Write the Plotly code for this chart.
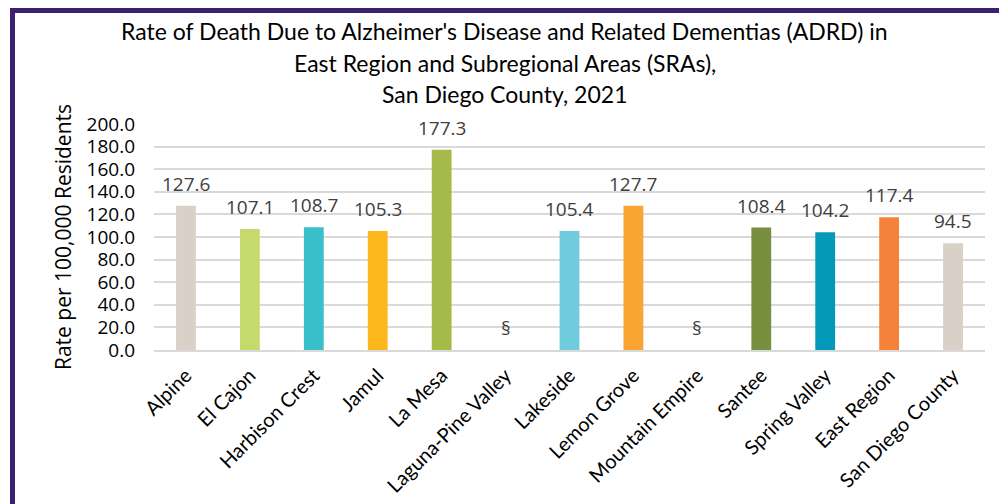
import plotly.graph_objects as go

categories = ["Alpine", "El Cajon", "Harbison Crest", "Jamul", "La Mesa",
              "Laguna-Pine Valley", "Lakeside", "Lemon Grove", "Mountain Empire",
              "Santee", "Spring Valley", "East Region", "San Diego County"]
rates = [127.6, 107.1, 108.7, 105.3, 177.3, None, 105.4, 127.7, None,
         108.4, 104.2, 117.4, 94.5]
colors = ["#d9d0c7", "#c6d96c", "#38bfc9", "#fdb71c", "#a6ba4a", "#cccccc",
          "#70cbdd", "#f9a533", "#cccccc", "#778f3e", "#0499b9", "#f5823b", "#d9d0c7"]
ytick_vals = [0, 20, 40, 60, 80, 100, 120, 140, 160, 180, 200]
ytick_text = [f"{v:.1f}" for v in ytick_vals]
title_lines = ["Rate of Death Due to Alzheimer's Disease and Related Dementias (ADRD) in",
               "East Region and Subregional Areas (SRAs),",
               "San Diego County, 2021"]

yvals = [r if r is not None else 0 for r in rates]
labels = [f"{r:.1f}" if r is not None else "§" for r in rates]

TFONT = "Lato"
NFONT = "Open Sans"

# page has an 8px body margin; figure sized to fill the rest of the window
OFF = 8
W, H = 1007 - OFF, 504 - OFF
L, R, T, B = 146, 22, 116, 154
pw, ph = W - L - R, H - T - B

def px(x):
    return (x - OFF - L) / pw

def py(y):
    return (H - B - (y - OFF)) / ph

fig = go.Figure(go.Bar(
    x=categories, y=yvals, marker=dict(color=colors, line=dict(width=0)),
    hoverinfo="x+y"))

annotations = []
for c, v, t in zip(categories, yvals, labels):
    annotations.append(dict(x=c, y=v, xref="x", yref="y", text=t, showarrow=False,
                            yanchor="middle", yshift=22,
                            font=dict(family=NFONT, size=19, color="#404040")))
for i, line in enumerate(title_lines):
    annotations.append(dict(text=line, xref="paper", yref="paper", x=px(504.5),
                            y=py(31 + i * 31.5), xanchor="center", yanchor="middle", showarrow=False,
                            font=dict(family=TFONT, size=23, color="#000000")))

fig.update_layout(
    width=W, height=H, margin=dict(l=L, r=R, t=T, b=B),
    paper_bgcolor="white", plot_bgcolor="white", showlegend=False,
    bargap=0.69,
    xaxis=dict(tickangle=-45, tickfont=dict(family=TFONT, size=20, color="#000000"),
               showline=True, linecolor="#d9d9d9", linewidth=2, ticks="", showgrid=False,
               automargin=False, ticklabelstandoff=4),
    yaxis=dict(range=[0, 200], tickvals=ytick_vals, ticktext=ytick_text,
               tickfont=dict(family=NFONT, size=19, color="#000000"),
               showgrid=True, gridcolor="#d9d9d9", gridwidth=2, zeroline=False,
               automargin=False, ticklabelstandoff=18,
               title=dict(text="Rate per 100,000 Residents", standoff=9,
                          font=dict(family=NFONT, size=21, color="#000000"))),
    annotations=annotations,
    shapes=[dict(type="rect", xref="paper", yref="paper",
                 x0=px(12.5), x1=px(1002), y0=py(520), y1=py(10.5),
                 line=dict(color="#3b2070", width=5), fillcolor="rgba(0,0,0,0)", layer="above")],
)

fig.write_html("out.html")
